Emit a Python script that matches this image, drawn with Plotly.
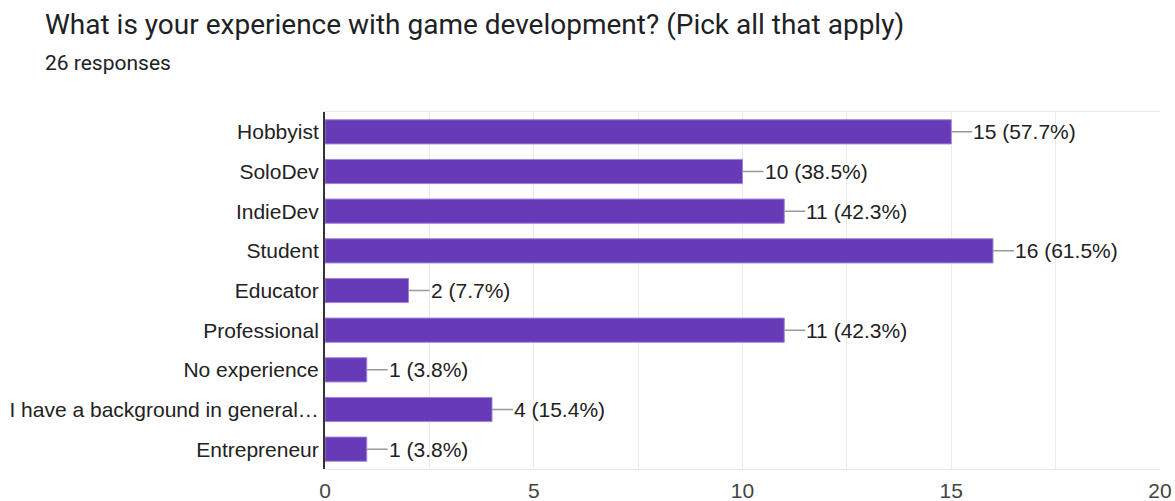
import plotly.graph_objects as go

# Survey question: experience with game development (multi-select)
categories = [
    "Hobbyist",
    "SoloDev",
    "IndieDev",
    "Student",
    "Educator",
    "Professional",
    "No experience",
    "I have a background in general…",
    "Entrepreneur",
]
counts = [15, 10, 11, 16, 2, 11, 1, 4, 1]
total_responses = 26
x_ticks = [0, 5, 10, 15, 20]

title_text = "What is your experience with game development? (Pick all that apply)"
subtitle_text = f"{total_responses} responses"

BAR_COLOR = "#673AB7"
HEAD_FONT = "Roboto, Arial, sans-serif"
CHART_FONT = "Liberation Sans, Arial, sans-serif"

W, H = 1175, 501
L, R, T, B = 325, 15, 112, 32
plot_w = W - L - R
plot_h = H - T - B

fig = go.Figure()
fig.add_trace(
    go.Bar(
        x=counts,
        y=categories,
        orientation="h",
        marker=dict(color=BAR_COLOR, line=dict(color="#9f84d6", width=1)),
        hoverinfo="skip",
    )
)

# value labels with a short leader line from each bar end
for cat, n in zip(categories, counts):
    pct = 100.0 * n / total_responses
    fig.add_annotation(
        x=n,
        y=cat,
        xref="x",
        yref="y",
        text=f"{n} ({pct:.1f}%)",
        showarrow=True,
        arrowhead=0,
        arrowwidth=1.5,
        arrowcolor="#999999",
        ax=21,
        ay=0,
        xanchor="left",
        yanchor="middle",
        borderpad=0,
        font=dict(family=CHART_FONT, size=21, color="#212121"),
    )


# heading and response count, positioned in pixel terms
def px_to_paper_x(px):
    return (px - L) / plot_w


def px_to_paper_y(py):
    return (H - B - py) / plot_h


fig.add_annotation(
    text=title_text,
    xref="paper",
    yref="paper",
    x=px_to_paper_x(43),
    y=px_to_paper_y(25),
    xanchor="left",
    yanchor="middle",
    showarrow=False,
    font=dict(family=HEAD_FONT, size=28, color="#202124"),
)
fig.add_annotation(
    text=subtitle_text,
    xref="paper",
    yref="paper",
    x=px_to_paper_x(43),
    y=px_to_paper_y(63),
    xanchor="left",
    yanchor="middle",
    showarrow=False,
    font=dict(family=HEAD_FONT, size=21, color="#202124"),
)

fig.update_layout(
    width=W,
    height=H,
    margin=dict(l=L, r=R, t=T, b=B, pad=0, autoexpand=False),
    paper_bgcolor="white",
    plot_bgcolor="white",
    bargap=0.39,
    showlegend=False,
    font=dict(family=CHART_FONT, size=21, color="#222222"),
    xaxis=dict(
        range=[0, 20],
        tickmode="array",
        tickvals=x_ticks,
        ticktext=[str(v) for v in x_ticks],
        showgrid=True,
        gridcolor="#ebebeb",
        gridwidth=1,
        minor=dict(dtick=2.5, showgrid=True, gridcolor="#ebebeb", gridwidth=1),
        zeroline=False,
        showline=True,
        mirror=True,
        linecolor="#ebebeb",
        linewidth=1,
        ticks="",
        ticklabelstandoff=3,
        automargin=False,
        tickfont=dict(family=CHART_FONT, size=21, color="#444444"),
        fixedrange=True,
    ),
    yaxis=dict(
        categoryorder="array",
        categoryarray=categories,
        autorange="reversed",
        showgrid=False,
        zeroline=False,
        showline=True,
        linecolor="#333333",
        linewidth=2,
        ticks="",
        ticklabelstandoff=0,
        automargin=False,
        tickfont=dict(family=CHART_FONT, size=21, color="#222222"),
        fixedrange=True,
    ),
)

fig.write_html("out.html")
